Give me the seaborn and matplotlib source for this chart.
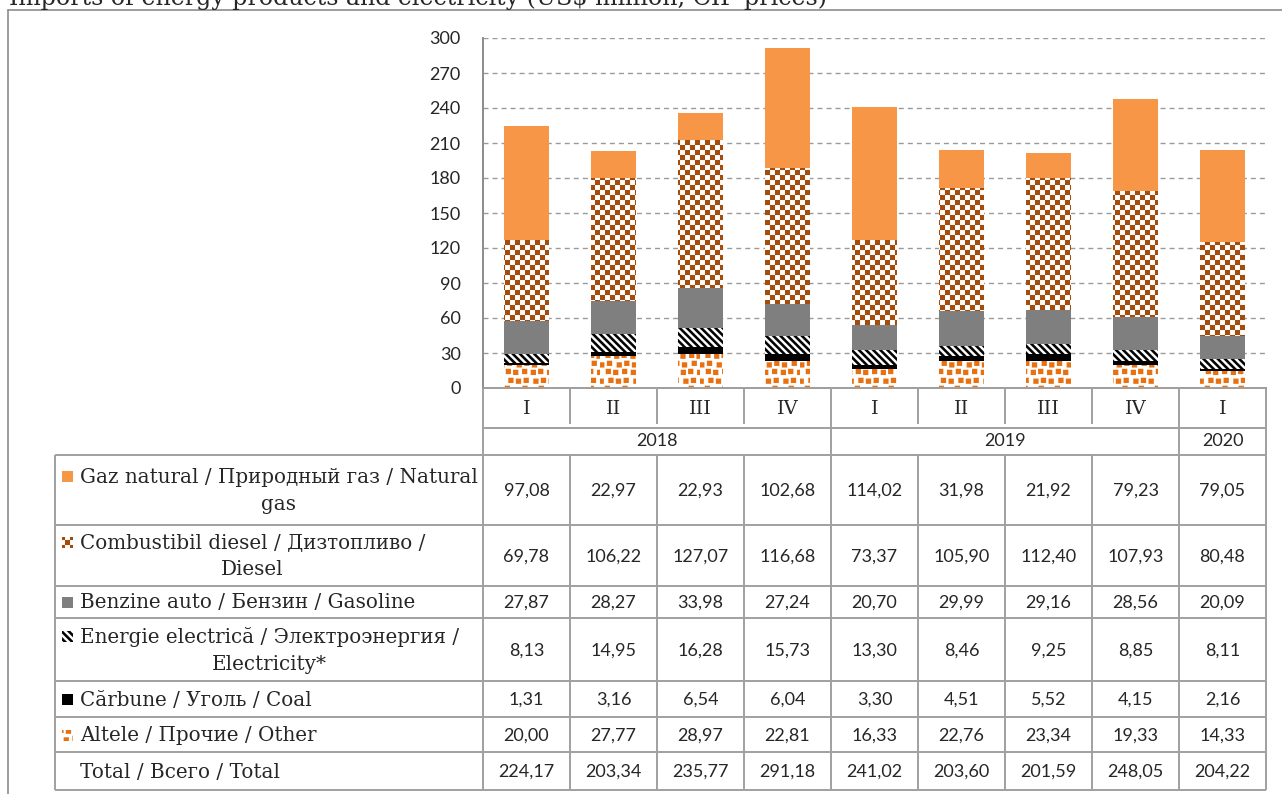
import numpy as np
import pandas as pd
import matplotlib
matplotlib.use("Agg")
import matplotlib.pyplot as plt
import matplotlib.hatch as mhatch
from matplotlib.path import Path
from matplotlib.patches import Rectangle
import seaborn as sns

# ---------------- data ----------------
quarters = ["I", "II", "III", "IV", "I", "II", "III", "IV", "I"]
years = ["2018", "2018", "2018", "2018", "2019", "2019", "2019", "2019", "2020"]
gas = [97.08, 22.97, 22.93, 102.68, 114.02, 31.98, 21.92, 79.23, 79.05]
diesel = [69.78, 106.22, 127.07, 116.68, 73.37, 105.90, 112.40, 107.93, 80.48]
gasoline = [27.87, 28.27, 33.98, 27.24, 20.70, 29.99, 29.16, 28.56, 20.09]
electricity = [8.13, 14.95, 16.28, 15.73, 13.30, 8.46, 9.25, 8.85, 8.11]
coal = [1.31, 3.16, 6.54, 6.04, 3.30, 4.51, 5.52, 4.15, 2.16]
other = [20.00, 27.77, 28.97, 22.81, 16.33, 22.76, 23.34, 19.33, 14.33]
total = [224.17, 203.34, 235.77, 291.18, 241.02, 203.60, 201.59, 248.05, 204.22]
yticks = [0, 30, 60, 90, 120, 150, 180, 210, 240, 270, 300]

label_gas = "Gaz natural / Природный газ / Natural\ngas"
label_diesel = "Combustibil diesel / Дизтопливо /\nDiesel"
label_gasoline = "Benzine auto / Бензин / Gasoline"
label_elec = "Energie electrică / Электроэнергия /\nElectricity*"
label_coal = "Cărbune / Уголь / Coal"
label_other = "Altele / Прочие / Other"
label_total = "Total / Всего / Total"
title = "Imports of energy products and electricity (US$ million, CIF prices)"


# ---------------- custom fill patterns ----------------
class _PolyHatch(mhatch.HatchPatternBase):
    char = None

    def __init__(self, hatch, density):
        self._polys = self.make() if hatch.count(self.char) > 0 else []
        self.num_vertices = 5 * len(self._polys)

    def set_vertices_and_codes(self, vertices, codes):
        k = 0
        for poly in self._polys:
            vertices[k:k + 5] = np.vstack([poly, poly[:1]])
            codes[k:k + 5] = [Path.MOVETO, Path.LINETO, Path.LINETO,
                              Path.LINETO, Path.CLOSEPOLY]
            k += 5


class Checker(_PolyHatch):
    char = "*"
    n = 20

    def make(self):
        s = 1.0 / self.n
        out = []
        for i in range(self.n):
            for j in range(self.n):
                if (i + j) % 2 == 0:
                    x0, y0 = i * s, j * s
                    out.append(np.array([[x0, y0], [x0 + s, y0],
                                         [x0 + s, y0 + s], [x0, y0 + s]]))
        return out


class Specks(_PolyHatch):
    char = "O"
    n = 12
    size = 0.052

    def make(self):
        p = 1.0 / self.n
        jit = [0.0, 0.012, -0.008, 0.016, -0.014, 0.006]
        out = []
        for r in range(self.n):
            for c in range(self.n):
                x0 = c * p + (p / 2 if r % 2 else 0) + jit[(r * 5 + c * 2) % 6]
                y0 = r * p + jit[(r + c * 3) % 6] * 0.6
                s = self.size
                out.append(np.array([[x0, y0], [x0 + s, y0],
                                     [x0 + s, y0 + s], [x0, y0 + s]]))
        return out


class Stripes(_PolyHatch):
    char = "o"
    n = 14
    frac = 0.5

    def make(self):
        w = self.frac / self.n
        out = []
        for k in range(-2, 2 * self.n + 3):
            c = k / self.n
            out.append(np.array([[-1, c + 1], [2, c - 2],
                                 [2, c + w - 2], [-1, c + w + 1]]))
        return out


_ht = mhatch._hatch_types
for _i, _cls in enumerate(list(_ht)):
    if _cls is mhatch.Stars:
        _ht[_i] = Checker
    elif _cls is mhatch.LargeCircles:
        _ht[_i] = Specks
    elif _cls is mhatch.SmallCircles:
        _ht[_i] = Stripes

# ---------------- style ----------------
sns.set_style("white")
plt.rcParams["hatch.linewidth"] = 0.05
SERIF = ["DejaVu Serif", "Liberation Serif"]
SANS = ["Lato", "DejaVu Sans"]
LINE = "#A0A0A0"

W, H = 1282, 794
fig = plt.figure(figsize=(W / 100, H / 100), dpi=100)
fig.patch.set_facecolor("white")

# plot area (pixel layout)
L, R, T, B = 483, 1266, 38, 388
ax = fig.add_axes([L / W, 1 - B / H, (R - L) / W, (B - T) / H])
ax.set_facecolor("none")

keys = [f"{y}-{q}" for y, q in zip(years, quarters)]
series = [  # bottom -> top
    (other, "white", "#E8700F", "O"),
    (coal, "black", "black", None),
    (electricity, "white", "black", "o"),
    (gasoline, "#7F7F7F", "#7F7F7F", None),
    (diesel, "white", "#A34C0C", "*"),
    (gas, "#F79646", "#F79646", None),
]
bottom = np.zeros(len(keys))
for vals, face, hcol, hatch in series:
    sns.barplot(x=keys, y=vals, order=keys, ax=ax, color=face, saturation=1,
                width=0.52, errorbar=None, bottom=bottom, edgecolor=hcol,
                linewidth=0, hatch=hatch, zorder=3)
    bottom = bottom + np.asarray(vals)

ax.set_xlim(-0.5, len(keys) - 0.5)
ax.set_ylim(0, 300)
ax.set_yticks(yticks)
ax.set_yticklabels([str(v) for v in yticks], fontsize=13, family=SANS)
ax.tick_params(axis="y", length=0, pad=16)
ax.tick_params(axis="x", length=0, labelbottom=False)
ax.set_xlabel("")
ax.set_ylabel("")
ax.yaxis.grid(True, color="#9A9A9A", linestyle=(0, (3.6, 2.9)), linewidth=1.0)
ax.set_axisbelow(True)
for s in ["top", "right"]:
    ax.spines[s].set_visible(False)
for s in ["left", "bottom"]:
    ax.spines[s].set_color("#8C8C8C")
    ax.spines[s].set_linewidth(1.4)

# ---------------- table overlay (pixel coordinates) ----------------
tab = fig.add_axes([0, 0, 1, 1])
tab.set_xlim(0, W)
tab.set_ylim(H, 0)
tab.axis("off")

edges_pos = np.arange(len(keys) + 1) - 0.5
xe = ax.transData.transform(np.column_stack([edges_pos, np.zeros_like(edges_pos)]))[:, 0]
xc = (xe[:-1] + xe[1:]) / 2

cat_top, cat_bot, year_bot = 388, 428, 455
row_edges = [455, 525, 586, 618, 681, 717, 752, 790]
tab_left = 55

# header texts
for x, q in zip(xc, quarters):
    tab.text(x, (cat_top + cat_bot) / 2 + 1, q, ha="center", va="center",
             fontsize=14, family=SERIF)
year_breaks = [0] + [i for i in range(1, len(years)) if years[i] != years[i - 1]] + [len(years)]
for a, b in zip(year_breaks[:-1], year_breaks[1:]):
    tab.text((xe[a] + xe[b]) / 2, (cat_bot + year_bot) / 2, years[a], ha="center",
             va="center", fontsize=13, family=SANS)

# header lines
tab.hlines([cat_top, cat_bot], xe[0], xe[-1], color=LINE, lw=1.4)
for i, x in enumerate(xe):
    if i in year_breaks:
        tab.vlines(x, cat_top, row_edges[-1], color=LINE, lw=1.4)
    else:
        tab.vlines(x, cat_top, cat_bot - 4, color=LINE, lw=1.4)
        tab.vlines(x, row_edges[0], row_edges[-1], color=LINE, lw=1.4)
tab.hlines(row_edges, tab_left, xe[-1], color=LINE, lw=1.4)
tab.vlines(tab_left, row_edges[0], row_edges[-1], color=LINE, lw=1.4)

# rows
rows = [
    (label_gas, gas, "#F79646", "#F79646", None),
    (label_diesel, diesel, "white", "#A34C0C", "*"),
    (label_gasoline, gasoline, "#7F7F7F", "#7F7F7F", None),
    (label_elec, electricity, "white", "black", "o"),
    (label_coal, coal, "black", "black", None),
    (label_other, other, "white", "#E8700F", "O"),
    (label_total, total, None, None, None),
]
lh = 28
for r, (lab, vals, face, hcol, hatch) in enumerate(rows):
    yc = (row_edges[r] + row_edges[r + 1]) / 2
    nl = lab.count("\n") + 1
    tab.text(80, yc + 1, lab, ha="left", va="center", multialignment="center",
             fontsize=14.3, family=SERIF, linespacing=1.48)
    if face is not None:
        y1 = yc - (nl - 1) * lh / 2
        tab.add_patch(Rectangle((62, y1 - 5), 11, 11, facecolor=face,
                                edgecolor=hcol, linewidth=0, hatch=hatch))
    for x, v in zip(xc, vals):
        tab.text(x, yc + 1, f"{v:.2f}".replace(".", ","), ha="center",
                 va="center", fontsize=13, family=SANS)

# outer frame and (cut) title
tab.plot([8, 8], [9.5, H], color="#8C8C8C", lw=1.2)
tab.plot([8, W], [9.5, 9.5], color="#8C8C8C", lw=1.2)
tab.text(9, 4.5, title, ha="left", va="baseline", fontsize=17.1, family=SERIF)

fig.savefig("out.png", dpi=100, facecolor="white")
